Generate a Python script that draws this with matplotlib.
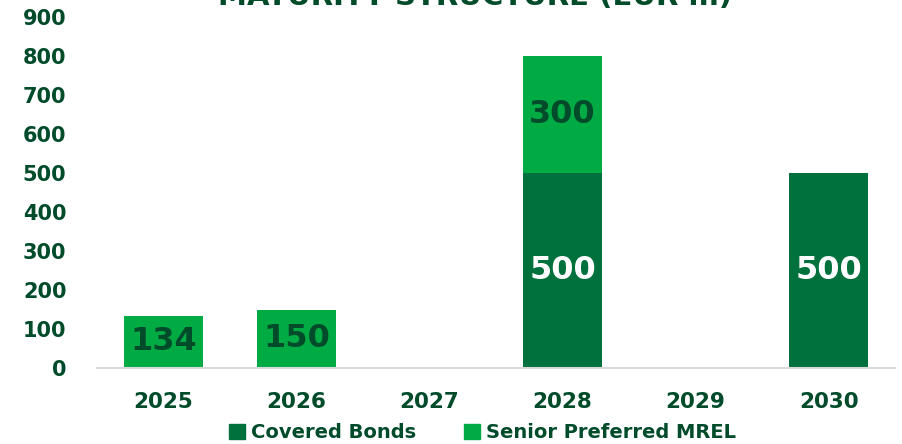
import numpy as np
import matplotlib.pyplot as plt
from matplotlib.patches import Patch

years = ["2025", "2026", "2027", "2028", "2029", "2030"]
covered = [0, 0, 0, 500, 0, 500]
senior = [134, 150, 0, 300, 0, 0]

dark = "#00703C"
light = "#00AB44"
txt = "#004B2A"

fig = plt.figure(figsize=(9.02, 4.44), dpi=100)
ax = fig.add_axes([0.1075, 0.171, 0.885, 0.791])

x = np.arange(len(years))
w = 0.59
b1 = ax.bar(x, covered, w, color=dark, label="Covered Bonds")
b2 = ax.bar(x, senior, w, bottom=covered, color=light, label="Senior Preferred MREL")

# values inside the bars
for i in range(len(years)):
    if covered[i] > 0:
        ax.text(x[i], covered[i] / 2, str(covered[i]), ha="center", va="center",
                color="white", fontsize=23, fontweight="bold")
    if senior[i] > 0:
        ax.text(x[i], covered[i] + senior[i] / 2, str(senior[i]), ha="center", va="center",
                color=txt, fontsize=23, fontweight="bold")

ax.set_xlim(-0.5, len(years) - 0.5)
ax.set_ylim(0, 900)
ax.set_yticks(np.arange(0, 901, 100))
ax.set_xticks(x)
ax.set_xticklabels(years)
ax.tick_params(axis="both", length=0, labelcolor=txt)
ax.tick_params(axis="x", pad=17, labelsize=15.5)
ax.tick_params(axis="y", pad=22, labelsize=15)
for lab in ax.get_xticklabels() + ax.get_yticklabels():
    lab.set_fontweight("bold")
for s in ["top", "right", "left"]:
    ax.spines[s].set_visible(False)
ax.spines["bottom"].set_color("#d9d9d9")
ax.spines["bottom"].set_linewidth(1.5)

fig.text(0.527, 0.988, "MATURITY STRUCTURE (EUR m)", ha="center", va="baseline",
         color=txt, fontsize=21, fontweight="bold")

handles = [Patch(color=dark), Patch(color=light)]
fig.legend(handles, ["Covered Bonds", "Senior Preferred MREL"], loc="center",
           bbox_to_anchor=(0.535, 0.025), ncol=2, frameon=False,
           handlelength=0.8, handleheight=0.8, handletextpad=0.3, columnspacing=2.5,
           labelcolor=txt, prop={"weight": "bold", "size": 14})

fig.savefig("out.png", dpi=100)
